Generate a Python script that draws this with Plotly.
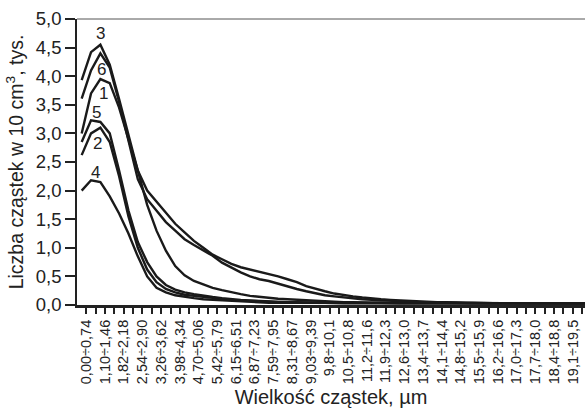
import plotly.graph_objects as go

tick_labels = ["0,00÷0,74", "1,10÷1,46", "1,82÷2,18", "2,54÷2,90", "3,26÷3,62", "3,98÷4,34",
               "4,70÷5,06", "5,42÷5,79", "6,15÷6,51", "6,87÷7,23", "7,59÷7,95", "8,31÷8,67",
               "9,03÷9,39", "9,8÷10,1", "10,5÷10,8", "11,2÷11,6", "11,9÷12,3", "12,6÷13,0",
               "13,4÷13,7", "14,1÷14,4", "14,8÷15,2", "15,5÷15,9", "16,2÷16,6", "17,0÷17,3",
               "17,7÷18,0", "18,4÷18,8", "19,1÷19,5"]

s3 = [3.93, 4.42, 4.55, 4.2, 3.6, 2.95, 2.35, 2.0, 1.8, 1.6, 1.42, 1.27, 1.12, 1.0, 0.88, 0.8,
      0.72, 0.66, 0.62, 0.58, 0.55, 0.5, 0.45, 0.4, 0.33, 0.28, 0.24, 0.2, 0.17, 0.15, 0.13, 0.11,
      0.1, 0.09, 0.08, 0.07, 0.06, 0.06, 0.05, 0.05, 0.04, 0.04, 0.04, 0.03, 0.03, 0.03, 0.03, 0.03,
      0.03, 0.03, 0.03, 0.03, 0.03, 0.03, 0.03, 0.03]
s6 = [3.61, 4.1, 4.4, 4.15, 3.55, 2.85, 2.2, 1.85, 1.65, 1.45, 1.3, 1.15, 1.05, 0.95, 0.86, 0.74,
      0.65, 0.57, 0.5, 0.45, 0.42, 0.37, 0.32, 0.28, 0.24, 0.2, 0.17, 0.15, 0.13, 0.11, 0.1, 0.09,
      0.08, 0.07, 0.06, 0.06, 0.05, 0.05, 0.04, 0.04, 0.04, 0.03, 0.03, 0.03, 0.03, 0.03, 0.03, 0.03,
      0.03, 0.03, 0.03, 0.03, 0.03, 0.03, 0.03, 0.03]
s1 = [3.0, 3.7, 3.95, 3.88, 3.45, 2.9, 2.35, 1.75, 1.3, 0.95, 0.68, 0.52, 0.42, 0.36, 0.3, 0.26,
      0.22, 0.19, 0.16, 0.14, 0.12, 0.11, 0.1, 0.09, 0.08, 0.07, 0.06, 0.06, 0.05, 0.05, 0.04, 0.04,
      0.04, 0.03, 0.03, 0.03, 0.03, 0.03, 0.03, 0.03, 0.03, 0.03, 0.03, 0.03, 0.03, 0.03, 0.03, 0.03,
      0.03, 0.03, 0.03, 0.03, 0.03, 0.03, 0.03, 0.03]
s5 = [2.85, 3.23, 3.2, 3.0, 2.35, 1.65, 1.1, 0.75, 0.5, 0.35, 0.27, 0.22, 0.19, 0.16, 0.14, 0.12,
      0.1, 0.09, 0.08, 0.07, 0.06, 0.06, 0.05, 0.05, 0.04, 0.04, 0.04, 0.03, 0.03, 0.03, 0.03, 0.03,
      0.03, 0.03, 0.03, 0.03, 0.03, 0.03, 0.03, 0.03, 0.03, 0.03, 0.03, 0.03, 0.03, 0.03, 0.03, 0.03,
      0.03, 0.03, 0.03, 0.03, 0.03, 0.03, 0.03, 0.03]
s2 = [2.62, 3.0, 3.1, 2.85, 2.25, 1.55, 1.0, 0.62, 0.4, 0.28, 0.22, 0.18, 0.16, 0.14, 0.12, 0.1,
      0.09, 0.08, 0.07, 0.06, 0.05, 0.05, 0.04, 0.04, 0.04, 0.03, 0.03, 0.03, 0.03, 0.03, 0.03, 0.03,
      0.03, 0.03, 0.03, 0.03, 0.03, 0.03, 0.03, 0.03, 0.03, 0.03, 0.03, 0.03, 0.03, 0.03, 0.03, 0.03,
      0.03, 0.03, 0.03, 0.03, 0.03, 0.03, 0.03, 0.03]
s4 = [2.0, 2.18, 2.15, 1.9, 1.6, 1.25, 0.85, 0.5, 0.3, 0.22, 0.17, 0.14, 0.12, 0.1, 0.09, 0.08,
      0.07, 0.06, 0.05, 0.05, 0.04, 0.04, 0.04, 0.03, 0.03, 0.03, 0.03, 0.03, 0.03, 0.03, 0.03, 0.03,
      0.03, 0.03, 0.03, 0.03, 0.03, 0.03, 0.03, 0.03, 0.03, 0.03, 0.03, 0.03, 0.03, 0.03, 0.03, 0.03,
      0.03, 0.03, 0.03, 0.03, 0.03, 0.03, 0.03, 0.03]

series = [("1", s1), ("2", s2), ("3", s3), ("4", s4), ("5", s5), ("6", s6)]
label_pos = {"3": (2.0, 4.75), "6": (2.1, 4.11), "1": (2.3, 3.7),
             "5": (1.6, 3.36), "2": (1.7, 2.83), "4": (1.5, 2.31)}

fig = go.Figure()
for name, vals in series:
    fig.add_trace(go.Scatter(x=list(range(len(vals))), y=vals, mode="lines",
                             line=dict(color="#1a1a1a", width=2.4), name=name,
                             showlegend=False))
    lx, ly = label_pos[name]
    fig.add_annotation(x=lx, y=ly, text=name, showarrow=False,
                       font=dict(size=17, color="#222"))

n_ticks = 54
tickvals = [m + 0.5 for m in range(n_ticks)]
ticktext = [tick_labels[m // 2] if m % 2 == 0 and m // 2 < len(tick_labels) else "" for m in range(n_ticks)]

fig.update_layout(
    width=585, height=408,
    margin=dict(l=77, r=0, t=19, b=103),
    paper_bgcolor="white", plot_bgcolor="white",
    font=dict(family="Liberation Sans, Arial, sans-serif", color="#222"),
    xaxis=dict(range=[-0.5, 53.8], tickmode="array", tickvals=tickvals, ticktext=ticktext,
               tickangle=-90, tickfont=dict(size=14.5), ticks="outside", ticklen=6,
               tickwidth=1.5, tickcolor="#222", showline=True, linewidth=3, linecolor="#222",
               showgrid=False, zeroline=False,
               title=dict(text="Wielkość cząstek, µm", font=dict(size=20), standoff=8)),
    yaxis=dict(range=[0, 5], tickmode="array", tickvals=[0, 0.5, 1, 1.5, 2, 2.5, 3, 3.5, 4, 4.5, 5],
               ticktext=["0,0", "0,5", "1,0", "1,5", "2,0", "2,5", "3,0", "3,5", "4,0", "4,5", "5,0"],
               tickfont=dict(size=18.5), ticks="outside", ticklen=10, tickwidth=1.5, tickcolor="#222",
               showline=True, linewidth=1.5, linecolor="#222", showgrid=False, zeroline=False,
               title=dict(text="Liczba cząstek w 10 cm<sup>3</sup>, tys.", font=dict(size=19.5), standoff=7)),
    shapes=[dict(type="line", xref="paper", yref="paper", x0=0, x1=1, y0=1, y1=1,
                 line=dict(color="#555", width=1))],
)

fig.write_html("out.html")
